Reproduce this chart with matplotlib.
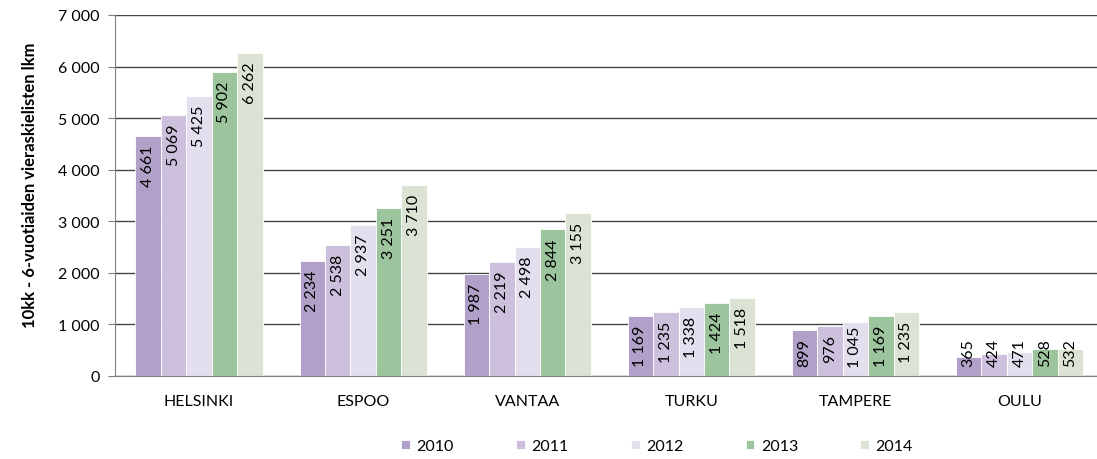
import matplotlib.pyplot as plt
import numpy as np

# data
cities = ['HELSINKI', 'ESPOO', 'VANTAA', 'TURKU', 'TAMPERE', 'OULU']
years = ['2010', '2011', '2012', '2013', '2014']
v2010 = [4661, 2234, 1987, 1169, 899, 365]
v2011 = [5069, 2538, 2219, 1235, 976, 424]
v2012 = [5425, 2937, 2498, 1338, 1045, 471]
v2013 = [5902, 3251, 2844, 1424, 1169, 528]
v2014 = [6262, 3710, 3155, 1518, 1235, 532]
colors = ['#b1a1c9', '#cdc0dc', '#e3dfee', '#9dc59d', '#dbe3d4']

plt.rcParams['font.family'] = ['Lato', 'DejaVu Sans']
FS = 11.5


def fmt(v):
    return '{:,}'.format(v).replace(',', ' ')


fig = plt.figure(figsize=(10.97, 4.6), dpi=100)
ax = fig.add_axes([115 / 1097, 1 - 377 / 460, 1 - 115 / 1097, (377 - 16) / 460])

x = np.arange(len(cities))
width = 0.155
series = [v2010, v2011, v2012, v2013, v2014]

for k, vals in enumerate(series):
    pos = x + (k - 2) * width
    ax.bar(pos, vals, width, color=colors[k], edgecolor='white', linewidth=0.6,
           label=years[k], zorder=2)
    for p, v in zip(pos, vals):
        txt = fmt(v)
        # rough label length in data units, short bars get their label lifted off the axis
        length = 180 * len(txt.replace(' ', '')) + 60 * txt.count(' ')
        top = max(v - 170, length + 194)
        ax.text(p, top, txt, rotation=90, ha='center', va='top',
                fontsize=FS, color='black', zorder=3)

ax.set_xlim(-0.512, 5.472)
ax.set_ylim(0, 7000)
ax.set_yticks(range(0, 7001, 1000))
ax.set_yticklabels([fmt(t) for t in range(0, 7001, 1000)], fontsize=FS)
ax.set_xticks(x)
ax.set_xticklabels(cities, fontsize=FS)
ax.tick_params(axis='x', length=0, pad=13)
ax.tick_params(axis='y', length=5, color='#808080', direction='out', pad=6)

ax.yaxis.grid(True, color='#454545', linewidth=1)
ax.set_axisbelow(True)
for s in ['top', 'right']:
    ax.spines[s].set_visible(False)
ax.spines['left'].set_color('#808080')
ax.spines['bottom'].set_color('#808080')

fig.text(30 / 1097, 1 - 185 / 460, '10kk - 6-vuotiaiden vieraskielisten lkm',
         rotation=90, ha='center', va='center', fontsize=12, fontweight='bold')

fig.legend(loc='center', bbox_to_anchor=(657 / 1097, 1 - 447 / 460), ncol=5,
           frameon=False, fontsize=FS, handlelength=0.55, handleheight=0.55,
           handletextpad=0.4, columnspacing=3.9)

fig.savefig('out.png', dpi=100)
